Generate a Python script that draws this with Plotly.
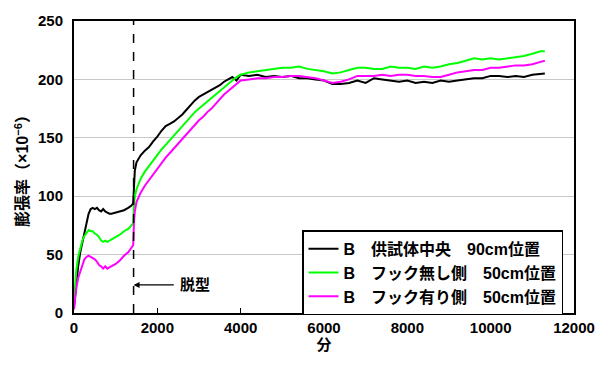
import plotly.graph_objects as go

minutes = [
    0, 50, 100, 150, 200, 250, 300, 350, 400, 450,
    500, 550, 600, 650, 700, 750, 800, 850, 900, 1000,
    1100, 1200, 1300, 1380, 1420, 1440, 1460, 1500, 1550, 1600,
    1700, 1800, 1900, 2000, 2100, 2200, 2300, 2400, 2500, 2600,
    2700, 2800, 2900, 3000, 3100, 3200, 3300, 3400, 3500, 3600,
    3700, 3800, 3900, 4000, 4200, 4400, 4600, 4800, 5000, 5200,
    5400, 5600, 5800, 6000, 6200, 6400, 6600, 6800, 7000, 7200,
    7400, 7600, 7800, 8000, 8200, 8400, 8600, 8800, 9000, 9200,
    9400, 9600, 9800, 10000, 10200, 10400, 10600, 10800, 11000, 11200,
    11300,
]

center_90 = [
    5, 25, 40, 52, 60, 70, 78, 85, 89, 90,
    89, 90, 88, 87, 89, 87, 86, 85, 85, 86,
    87, 88, 90, 92, 94, 112, 122, 129, 132, 135,
    139, 142, 147, 151, 156, 160, 162, 164, 167, 170,
    174, 178, 182, 185, 187, 189, 191, 193, 195, 198,
    200, 202, 199, 204, 203, 204, 202, 203, 202, 203,
    201, 201, 200, 199, 196, 196, 197, 199, 197, 201,
    200, 199, 198, 199, 197, 198, 197, 199, 198, 199,
    200, 201, 201, 203, 203, 202, 203, 202, 204, 205,
    205,
]

nohook_50 = [
    10, 35, 48, 56, 62, 66, 69, 71, 70, 70,
    68, 67, 65, 62, 61, 62, 61, 62, 63, 65,
    67, 70, 72, 75, 77, 93, 100, 106, 111, 115,
    121, 126, 131, 135, 140, 144, 148, 152, 156, 160,
    164, 168, 172, 175, 178, 181, 184, 187, 190, 193,
    196, 199, 202, 204, 206, 207, 208, 209, 210, 210,
    211, 209, 208, 207, 205, 206, 208, 210, 210, 209,
    209, 211, 210, 210, 209, 211, 210, 211, 213, 214,
    216, 218, 217, 218, 217, 218, 219, 220, 222, 224,
    224,
]

hook_50 = [
    3, 20, 30, 36, 42, 46, 48, 49, 48, 47,
    46, 44, 41, 40, 38, 40, 38, 39, 40, 42,
    45, 49, 52, 56, 58, 78, 87, 95, 99, 103,
    109, 114, 119, 124, 128, 133, 137, 141, 145, 149,
    153, 157, 161, 165, 168, 172, 175, 179, 183, 187,
    190, 193, 196, 199, 200, 201, 201, 202, 202, 203,
    203, 202, 201, 199, 197, 198, 200, 203, 203, 203,
    204, 203, 204, 204, 203, 203, 202, 202, 204, 206,
    207, 208, 208, 210, 210, 211, 212, 212, 213, 215,
    216,
]

series_names = [
    "B\u3000供試体中央\u300090cm位置",
    "B\u3000フック無し側\u300050cm位置",
    "B\u3000フック有り側\u300050cm位置",
]
series_colors = ["#000000", "#00FF00", "#FF00FF"]

demold_minute = 1430
demold_label = "脱型"
x_ticks = [0, 2000, 4000, 6000, 8000, 10000, 12000]
x_tick_text = ["0", "2000", "4000", "6000", "8000", "10000", "12000"]
y_ticks = [0, 50, 100, 150, 200, 250]
y_tick_text = ["0", "50", "100", "150", "200", "250"]

FONT = "Liberation Sans, Arial, Noto Sans CJK JP, sans-serif"

fig = go.Figure()
for name, ys, col in zip(series_names, [center_90, nohook_50, hook_50], series_colors):
    fig.add_trace(go.Scatter(x=minutes, y=ys, mode="lines", name=name,
                             line=dict(color=col, width=2)))

fig.add_shape(type="line", x0=demold_minute, x1=demold_minute, y0=0, y1=250,
              xref="x", yref="y", line=dict(color="black", width=1.5, dash="dash"))

fig.add_annotation(x=demold_minute, y=24, ax=2430, ay=24, axref="x", ayref="y",
                   xref="x", yref="y", text="", showarrow=True,
                   arrowhead=2, arrowsize=1, arrowwidth=1.2, arrowcolor="black")
fig.add_annotation(x=2500, y=24, xref="x", yref="y", text=demold_label,
                   showarrow=False, xanchor="left",
                   font=dict(size=15, color="black", family=FONT, weight="bold"))

fig.update_layout(
    width=607, height=365,
    margin=dict(l=74, r=29, t=18, b=52),
    plot_bgcolor="white", paper_bgcolor="white",
    font=dict(family=FONT, size=15, color="black", weight="bold"),
    showlegend=True,
    legend=dict(x=0.456, y=0.283, xanchor="left", yanchor="top",
                bordercolor="black", borderwidth=1.5, bgcolor="white",
                font=dict(size=16, family=FONT, weight="bold"),
                tracegroupgap=0, itemwidth=30, entrywidth=240),
)
fig.update_xaxes(range=[0, 12000], tickvals=x_ticks, ticktext=x_tick_text,
                 showgrid=False,
                 ticks="inside", ticklen=5, tickcolor="black",
                 showline=True, linecolor="black", linewidth=2, mirror=True,
                 zeroline=False,
                 tickfont=dict(size=15, family=FONT, weight="bold"),
                 title=dict(text="分", standoff=4,
                            font=dict(size=15, family=FONT, weight="bold")))
fig.update_yaxes(range=[0, 250], tickvals=y_ticks, ticktext=y_tick_text,
                 showgrid=True, gridcolor="#C8C8C8", gridwidth=1,
                 ticks="", showline=True, linecolor="black", linewidth=2, mirror=True,
                 zeroline=False, ticklabelstandoff=6,
                 tickfont=dict(size=15, family=FONT, weight="bold"),
                 title=dict(text="膨張率（×10<sup>−6</sup>）", standoff=5,
                            font=dict(size=16, family=FONT, weight="bold")))

fig.write_html("out.html", config={"displayModeBar": False})

with open("out.html", "r", encoding="utf-8") as f:
    html = f.read()
html = html.replace("<head>", "<head><style>html,body{margin:0;padding:0;overflow:hidden;}</style>", 1)
with open("out.html", "w", encoding="utf-8") as f:
    f.write(html)
